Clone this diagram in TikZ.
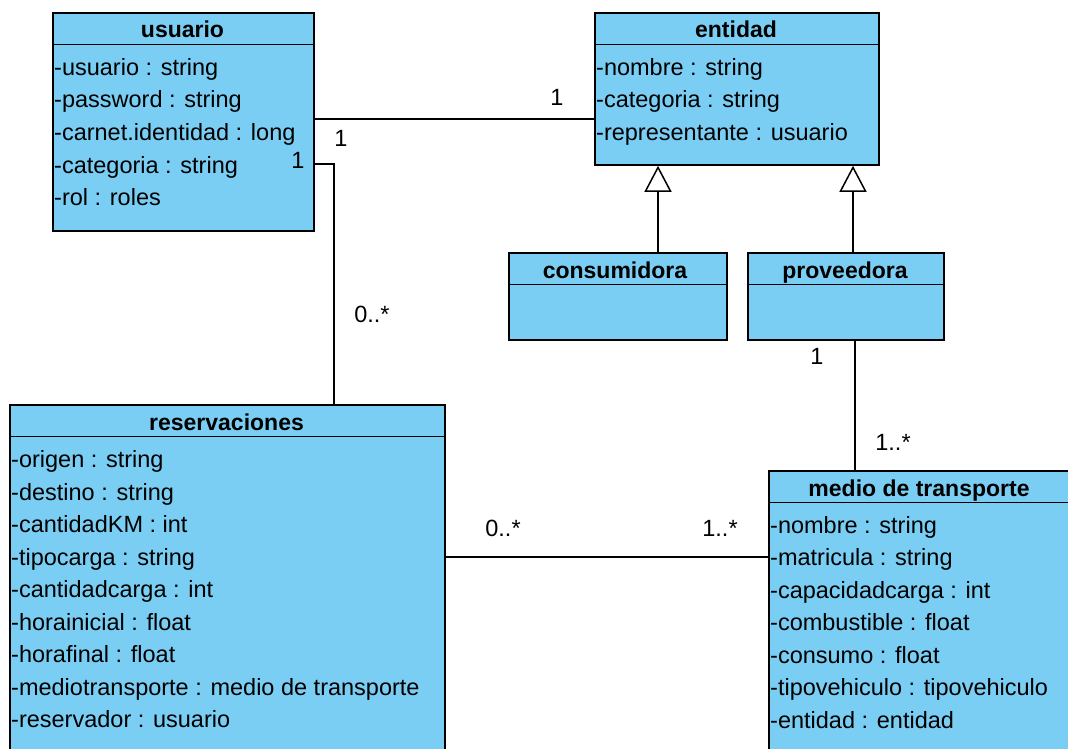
\documentclass[tikz,border=0pt]{standalone}
\usepackage{fontspec}
\setmainfont{Liberation Sans}
\usetikzlibrary{arrows.meta}
\definecolor{boxblue}{RGB}{122,206,243}
\begin{document}
\begin{tikzpicture}[x=1pt,y=-1pt,
  classbox/.style={draw=black, line width=1.8pt, fill=boxblue, anchor=north west, inner sep=0pt},
  sepline/.style={draw=black, line width=1.8pt},
  attr/.style={anchor=base west, inner sep=0pt, font=\fontsize{23.5}{28}\selectfont},
  ctitle/.style={anchor=base, inner sep=0pt, font=\fontsize{23}{28}\selectfont\bfseries},
  mult/.style={inner sep=0pt, font=\fontsize{23.5}{28}\selectfont},
  link/.style={draw=black, line width=1.5pt},
  gen/.style={draw=black, line width=1.5pt, -{Triangle[open, fill=white, length=26pt, width=27pt, line width=1.5pt]}}]
\useasboundingbox (0,0) rectangle (1068,749);
\clip (0,0) rectangle (1068,749);

% class boxes
\node[classbox, minimum width=261pt, minimum height=218pt] (usuario) at (52,12) {};
\node[classbox, minimum width=284pt, minimum height=152pt] (entidad) at (594,12) {};
\node[classbox, minimum width=218pt, minimum height=87pt] (consumidora) at (508,252) {};
\node[classbox, minimum width=196pt, minimum height=87pt] (proveedora) at (747,252) {};
\node[classbox, minimum width=435pt, minimum height=400pt] (reservaciones) at (9,404) {};
\node[classbox, minimum width=340pt, minimum height=350pt] (medio) at (768,470) {};

% header separators
\draw[sepline] (usuario.west |- 0,44.5) -- (usuario.east |- 0,44.5);
\draw[sepline] (entidad.west |- 0,44.5) -- (entidad.east |- 0,44.5);
\draw[sepline] (consumidora.west |- 0,284.5) -- (consumidora.east |- 0,284.5);
\draw[sepline] (proveedora.west |- 0,284.5) -- (proveedora.east |- 0,284.5);
\draw[sepline] (reservaciones.west |- 0,436.5) -- (reservaciones.east |- 0,436.5);
\draw[sepline] (medio.west |- 0,502.5) -- (medio.east |- 0,502.5);

% titles
\node[ctitle] (tusuario) at (182.5,38) {usuario};
\node[ctitle] (tentidad) at (736,38) {entidad};
\node[ctitle] (tconsumidora) at (615,278) {consumidora};
\node[ctitle] (tproveedora) at (845,278) {proveedora};
\node[ctitle] (treservaciones) at (226.5,430) {reservaciones};
\node[ctitle] (tmedio) at (919,496) {medio de transporte};

% attributes
\foreach \t [count=\i from 0] in {-usuario : string,-password : string,-carnet.identidad : long,-categoria : string,-rol : roles}
  \node[attr] (ua\i) at (54,75.5+32.5*\i) {\t};
\foreach \t [count=\i from 0] in {-nombre : string,-categoria : string,-representante : usuario}
  \node[attr] (ea\i) at (596,75.5+32.5*\i) {\t};
\foreach \t [count=\i from 0] in {-origen : string,-destino : string,-cantidadKM : int,-tipocarga : string,-cantidadcarga : int,-horainicial : float,-horafinal : float,-mediotransporte : medio de transporte,-reservador : usuario}
  \node[attr] (ra\i) at (11,467.5+32.5*\i) {\t};
\foreach \t [count=\i from 0] in {-nombre : string,-matricula : string,-capacidadcarga : int,-combustible : float,-consumo : float,-tipovehiculo : tipovehiculo,-entidad : entidad}
  \node[attr] (ma\i) at (770,533+32.5*\i) {\t};

% connectors
\draw[link] (usuario.east |- 0,119) -- (entidad.west |- 0,119);
\draw[link] (usuario.east |- 0,164) -| (reservaciones.north -| 334,0);
\draw[link] (reservaciones.east |- 0,557) -- (medio.west |- 0,557);
\draw[link] (proveedora.south -| 855,0) -- (medio.north -| 855,0);
\draw[gen] (consumidora.north -| 658,0) -- (entidad.south -| 658,0);
\draw[gen] (proveedora.north -| 853,0) -- (entidad.south -| 853,0);

% multiplicities
\node[mult] (m1) at (557,97) {1};
\node[mult] (m2) at (341,138) {1};
\node[mult] (m3) at (298,160) {1};
\node[mult] (m4) at (372,314) {0..*};
\node[mult] (m5) at (817,356) {1};
\node[mult] (m6) at (893,442) {1..*};
\node[mult] (m7) at (503,528) {0..*};
\node[mult] (m8) at (720,528) {1..*};
\end{tikzpicture}
\end{document}
